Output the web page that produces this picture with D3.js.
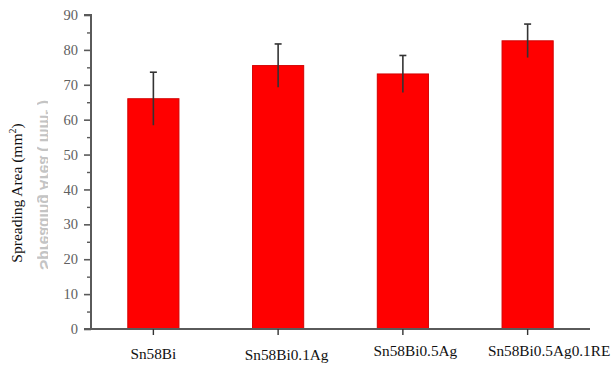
<!DOCTYPE html>
<html>
<head>
<meta charset="utf-8">
<script src="https://cdn.jsdelivr.net/npm/d3@7"></script>
<style>
  html, body { margin: 0; padding: 0; background: #fff; }
  svg { display: block; }
</style>
</head>
<body>
<svg id="chart" width="616" height="365"></svg>
<script>
// Spreading area of Sn58Bi-based solders
const categories = ["Sn58Bi", "Sn58Bi0.1Ag", "Sn58Bi0.5Ag", "Sn58Bi0.5Ag0.1RE"];
const areas = [66.0, 75.5, 73.1, 82.6];
const errors = [7.6, 6.2, 5.3, 4.8];
const yTicks = [0, 10, 20, 30, 40, 50, 60, 70, 80, 90];
const yMinorTicks = [5, 15, 25, 35, 45, 55, 65, 75, 85];

(function () {
const svg = d3.select("#chart");
const W = 616, H = 365;
const plotLeft = 91, plotRight = 590, plotTop = 15, plotBottom = 329;
const serif = "'Liberation Serif', 'Times New Roman', serif";

const x = d3.scaleBand().domain(categories).range([plotLeft, plotRight]).paddingInner(0.59).paddingOuter(0.295);
const y = d3.scaleLinear().domain([0, 90]).range([plotBottom, plotTop]);

const axisColor = "#5a5a5a";

// faint mirrored show-through of an axis title, partly cut off
svg.append("defs").append("clipPath").attr("id", "ghostClip")
  .append("rect").attr("x", 35).attr("y", 0).attr("width", 13).attr("height", H);
svg.append("g").attr("clip-path", "url(#ghostClip)")
  .append("text")
  .attr("transform", "translate(40,185) rotate(-90) scale(1,-1)")
  .attr("text-anchor", "middle")
  .attr("font-family", "'Liberation Sans', Arial, sans-serif")
  .attr("font-size", 16)
  .attr("font-weight", "bold")
  .attr("textLength", 170)
  .attr("lengthAdjust", "spacingAndGlyphs")
  .attr("fill", "#8a8a8a")
  .attr("opacity", 0.5)
  .text("Spreading Area ( mm² )");

// bars
svg.append("g").selectAll("rect").data(categories).join("rect")
  .attr("x", d => x(d))
  .attr("y", (d, i) => y(areas[i]))
  .attr("width", x.bandwidth())
  .attr("height", (d, i) => y(0) - y(areas[i]))
  .attr("fill", "#ff0000")
  .attr("stroke", "#d40000")
  .attr("stroke-width", 1);

// error bars
const eb = svg.append("g").attr("stroke", "#333").attr("stroke-width", 1.6);
categories.forEach((c, i) => {
  const cx = x(c) + x.bandwidth() / 2;
  eb.append("line").attr("x1", cx).attr("x2", cx)
    .attr("y1", y(areas[i] + errors[i])).attr("y2", y(areas[i] - errors[i]));
  eb.append("line").attr("x1", cx - 3.5).attr("x2", cx + 3.5)
    .attr("y1", y(areas[i] + errors[i])).attr("y2", y(areas[i] + errors[i]));
});

// y axis
const yAxis = svg.append("g").attr("transform", `translate(${plotLeft},0)`)
  .call(d3.axisLeft(y).tickValues(yTicks).tickSize(7).tickPadding(6).tickFormat(d3.format("d")));
yAxis.select(".domain").attr("stroke", axisColor).attr("stroke-width", 2).attr("d", `M-7,${plotTop}H0V${plotBottom}`);
yAxis.selectAll(".tick line").attr("stroke", axisColor).attr("stroke-width", 1.6);
yAxis.selectAll(".tick text")
  .attr("font-family", serif)
  .attr("font-size", 14.5).attr("fill", "#606060");
svg.append("g").attr("transform", `translate(${plotLeft},0)`)
  .call(d3.axisLeft(y).tickValues(yMinorTicks).tickSize(4).tickFormat(""))
  .call(g => g.select(".domain").remove())
  .selectAll(".tick line").attr("stroke", axisColor).attr("stroke-width", 1.4);

// x axis
const xAxis = svg.append("g").attr("transform", `translate(0,${plotBottom})`)
  .call(d3.axisBottom(x).tickSize(6).tickFormat(""));
xAxis.select(".domain").attr("stroke", axisColor).attr("stroke-width", 2).attr("d", `M${plotLeft - 7},0H${plotRight}`);
xAxis.selectAll(".tick line").attr("stroke", "#333").attr("stroke-width", 1.4);

// category labels (set slightly right of their ticks, as typeset)
const labelShift = [0, 8.5, 12.5, 21.5];
const labelBase = [359, 360, 356, 356];
svg.append("g").selectAll("text").data(categories).join("text")
  .attr("x", (d, i) => x(d) + x.bandwidth() / 2 + labelShift[i])
  .attr("y", (d, i) => labelBase[i])
  .attr("text-anchor", "middle")
  .attr("font-family", serif)
  .attr("font-size", 15.3)
  .attr("fill", "#111")
  .text(d => d);

// axis title
const title = svg.append("text")
  .attr("transform", "translate(22,193) rotate(-90)")
  .attr("text-anchor", "middle")
  .attr("font-family", serif)
  .attr("font-size", 15.5)
  .attr("fill", "#111");
title.append("tspan").text("Spreading Area (mm");
title.append("tspan").attr("font-size", 10).attr("dy", -6).text("2");
title.append("tspan").attr("dy", 6).text(")");
})();
</script>
</body>
</html>
